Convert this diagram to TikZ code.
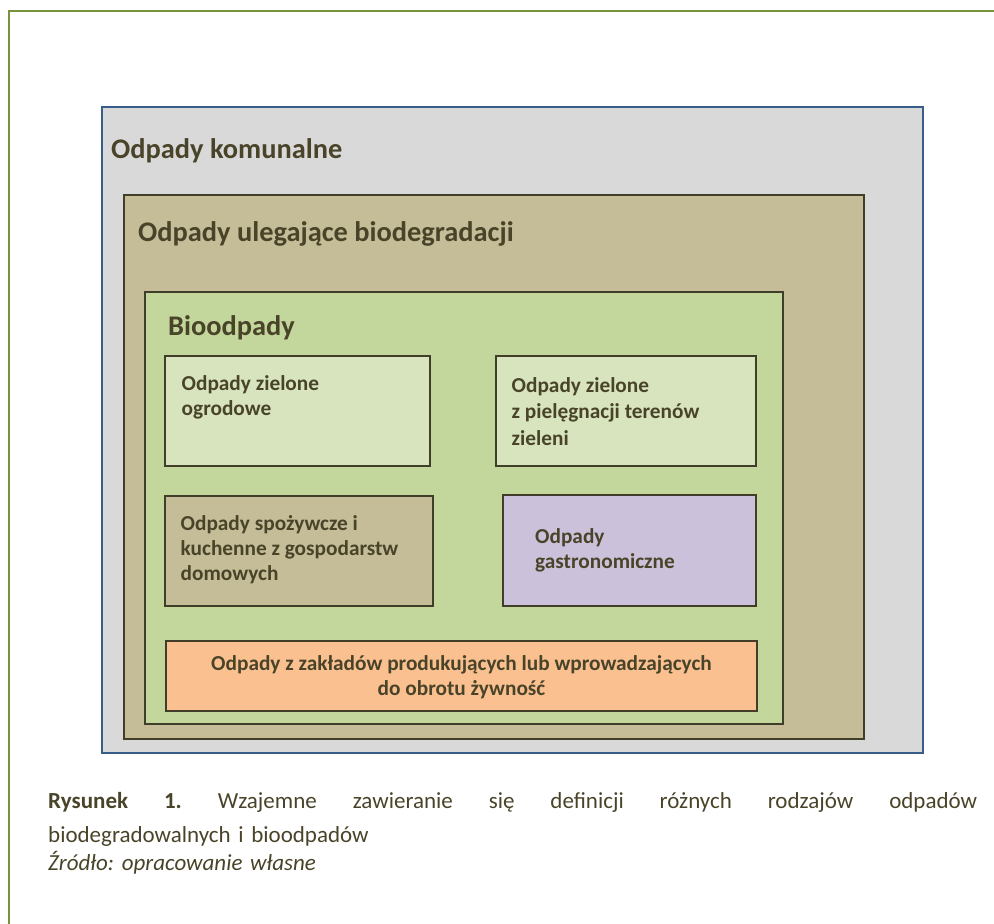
\documentclass[tikz,border=0pt]{standalone}
\usepackage{fontspec}
\setmainfont{Carlito}
\frenchspacing
\usetikzlibrary{positioning}
\definecolor{ramka}{HTML}{77933C}
\definecolor{niebieski}{HTML}{385D8A}
\definecolor{szary}{HTML}{D9D9D9}
\definecolor{bez}{HTML}{C4BD97}
\definecolor{zielony}{HTML}{C3D69B}
\definecolor{jasnozielony}{HTML}{D7E4BD}
\definecolor{fiolet}{HTML}{CCC1DA}
\definecolor{pomarancz}{HTML}{FAC090}
\definecolor{oliwka}{HTML}{494429}
\definecolor{obrys}{HTML}{403E28}
\begin{document}
\begin{tikzpicture}[x=1pt,y=-1pt,
		pole/.style={draw=obrys, line width=2.3pt},
		tytul/.style={anchor=base west, inner sep=0pt, text=oliwka, font=\fontsize{28.4}{34}\selectfont\bfseries},
		opis/.style={anchor=base west, inner sep=0pt, align=left, text=oliwka, font=\fontsize{21.3}{25.5}\selectfont\bfseries}]
			\useasboundingbox (0,0) rectangle (994,924);
			\draw [color=ramka, line width=2.5pt] (9,924) -- (9,11) -- (994,11);
			% zagniezdzone pola
			\fill[color=szary, draw=niebieski, line width=2.3pt] (102,107) rectangle (923,753);
			\fill[color=bez, pole] (124,195) rectangle (864,739);
			\fill[color=zielony, pole] (145,292) rectangle (783,724);
			\fill[color=jasnozielony, pole] (165,356) rectangle (430,466);
			\fill[color=jasnozielony, pole] (496,356) rectangle (756,466);
			\fill[color=bez, pole] (165,496) rectangle (433,606);
			\fill[color=fiolet, pole] (503,495) rectangle (756,606);
			\fill[color=pomarancz, pole] (166,641) rectangle (757,711);
			\node[tytul] (komunalne) at (111,158) {Odpady komunalne};
			\node[tytul] (biodegr) at (138,241) {Odpady ulegające biodegradacji};
			\node[tytul] (bio) at (168,335) {Bioodpady};
			% punkt zaczepienia = linia bazowa ostatniego wiersza
			\node[opis] (ogrod) at (181.5,415.5) {Odpady zielone\\ogrodowe};
			\node[opis, font=\fontsize{21.3}{26.5}\selectfont\bfseries] (teren) at (511.5,445) {Odpady zielone\\z pielęgnacji terenów\\zieleni};
			\node[opis, font=\fontsize{21.3}{25}\selectfont\bfseries] (kuchnia) at (180.5,580) {Odpady spożywcze i\\kuchenne z gospodarstw\\domowych};
			\node[opis] (gastro) at (535,568.5) {Odpady\\gastronomiczne};
			\node[opis, anchor=base, align=center] (zaklady) at (461.5,695.5) {Odpady z zakładów produkujących lub wprowadzających\\do obrotu żywność};
			% podpis (tu punkt zaczepienia = pierwszy wiersz)
			\node[anchor=base west, inner sep=0pt, text width=929pt, align=left, text=oliwka, font=\fontsize{23}{34}\selectfont] (podpis) at (48,808)
				{\textbf{Rysunek\hfill 1.}\hfill Wzajemne\hfill zawieranie\hfill się\hfill definicji\hfill różnych\hfill rodzajów\hfill odpadów\\
				biodegradowalnych i bioodpadów\\[-6pt]
				\textit{Źródło: opracowanie własne}};
\end{tikzpicture}
\end{document}
